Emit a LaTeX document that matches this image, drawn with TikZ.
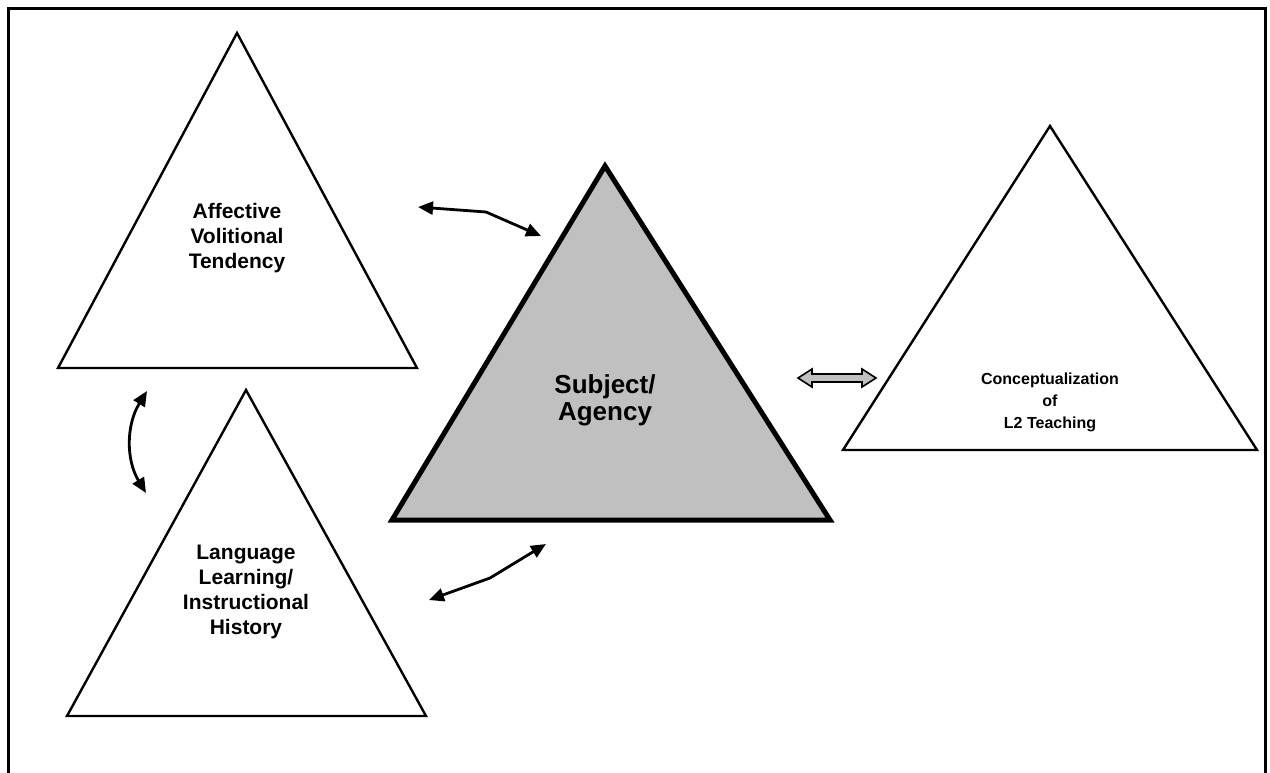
\documentclass[tikz,border=0pt]{standalone}
\usepackage{fontspec}
\setmainfont{Liberation Sans}
\usetikzlibrary{arrows.meta}
\definecolor{agencygray}{RGB}{192,192,192}
\begin{document}
\begin{tikzpicture}[x=1pt,y=-1pt,
  tri/.style={draw=black,line width=2.4pt,line join=miter,fill=white},
  lbl/.style={align=center,inner sep=0pt,font=\bfseries\fontsize{21}{25}\selectfont},
  link/.style={line width=2.8pt,{Triangle[length=15pt,width=13pt]}-{Triangle[length=15pt,width=13pt]}},
]
\useasboundingbox (0,0) rectangle (1270,772);
\clip (0,0) rectangle (1270,772);

% outer frame, open at the bottom
\draw[line width=3pt] (8,800) -- (8,8) -- (1265,8) -- (1265,800);

% triangles
\draw[tri] (237,33) -- (417,368) -- (58,368) -- cycle;
\draw[tri] (246,390) -- (426,716) -- (67,716) -- cycle;
\draw[tri] (1050,126) -- (1257,450) -- (843,450) -- cycle;
\draw[tri,line width=5pt,fill=agencygray] (605,166) -- (830,520) -- (392,520) -- cycle;

% labels
\node[lbl] (affect) at (237,238) {Affective\\Volitional\\Tendency};
\node[lbl] (history) at (246,592) {Language\\Learning/\\Instructional\\History};
\node[lbl,font=\bfseries\fontsize{16}{22}\selectfont] (concept) at (1050,402) {Conceptualization\\of\\L2 Teaching};
\node[lbl,font=\bfseries\fontsize{26}{27}\selectfont] (agency) at (605,400) {Subject/\\Agency};

% connector end points
\coordinate (a1) at (418,207);
\coordinate (a2) at (486,212);
\coordinate (a3) at (541,236);
\coordinate (b1) at (147,391);
\coordinate (b2) at (146,493);
\coordinate (c1) at (429,600);
\coordinate (c2) at (490,578);
\coordinate (c3) at (546,544);
\coordinate (d1) at (798,378);
\coordinate (d2) at (876,378);

% two-way links
\draw[link] (a1) -- (a2) -- (a3);
\draw[link] (b1) .. controls (126,425) and (126,460) .. (b2);
\draw[link] (c1) -- (c2) -- (c3);

% grey block double arrow
\draw[fill=agencygray,line width=1.6pt,line join=miter]
  (d1) -- ([shift={(14,-9)}]d1) -- ([shift={(14,-4)}]d1) -- ([shift={(-14,-4)}]d2)
  -- ([shift={(-14,-9)}]d2) -- (d2) -- ([shift={(-14,9)}]d2) -- ([shift={(-14,4)}]d2)
  -- ([shift={(14,4)}]d1) -- ([shift={(14,9)}]d1) -- cycle;
\end{tikzpicture}
\end{document}
